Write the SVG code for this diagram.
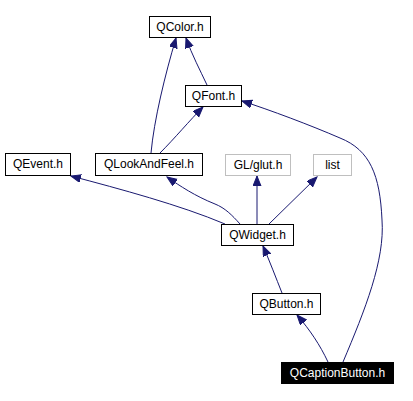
<svg xmlns="http://www.w3.org/2000/svg" width="413" height="401" viewBox="0 0 413 401">
<style>
.box{fill:#fff;stroke:#000;stroke-width:1}
.ext{fill:#fff;stroke:#bfbfbf;stroke-width:1}
.cur{fill:#000;stroke:#000;stroke-width:1}
text{font-family:"Liberation Sans",Arial,sans-serif;font-size:12px;text-anchor:middle;fill:#000}
.cur text, text.w{fill:#fff}
.e{fill:none;stroke:#191970;stroke-width:1;marker-end:url(#ah)}
</style>
<defs>
<marker id="ah" markerUnits="userSpaceOnUse" markerWidth="11" markerHeight="9" refX="10" refY="4" orient="auto" viewBox="0 0 11 9">
<path d="M0,0 L10,4 L0,8 z" fill="#191970" stroke="#191970"/>
</marker>
</defs>
<rect width="413" height="401" fill="#fff"/>
<g id="edges">
<path class="e" d="M151,153 C154,120 165,75 176,38"/>
<path class="e" d="M207,85 C200,70 192,55 186,38"/>
<path class="e" d="M160,153 C175,138 190,120 203,107"/>
<path class="e" d="M343,362 C365,310 385,260 382,220 C380,175 370,150 340,138 C310,125 270,110 242,101"/>
<path class="e" d="M225,224 C180,205 120,189 71,176"/>
<path class="e" d="M240,224 C232,215 225,208 215,204 C195,196 180,186 167,177"/>
<path class="e" d="M257,224 L257,176"/>
<path class="e" d="M269,224 L317,177"/>
<path class="e" d="M282,293 C276,278 270,262 263,246"/>
<path class="e" d="M328,362 C320,345 310,330 297,315"/>
</g>
<g id="QColor"><rect class="box" x="149.5" y="16.5" width="61" height="21"/><text x="180" y="31">QColor.h</text></g>
<g id="QFont"><rect class="box" x="185.5" y="85.5" width="56" height="21"/><text x="213.5" y="100">QFont.h</text></g>
<g id="QEvent"><rect class="box" x="5.5" y="153.5" width="65" height="22"/><text x="38" y="168">QEvent.h</text></g>
<g id="QLookAndFeel"><rect class="box" x="95.5" y="153.5" width="107" height="22"/><text x="149" y="168">QLookAndFeel.h</text></g>
<g id="GLglut"><rect class="ext" x="225.5" y="154.5" width="65" height="21"/><text x="258" y="169">GL/glut.h</text></g>
<g id="list"><rect class="ext" x="313.5" y="154.5" width="38" height="21"/><text x="332.5" y="169">list</text></g>
<g id="QWidget"><rect class="box" x="221.5" y="224.5" width="72" height="21"/><text x="257.5" y="239">QWidget.h</text></g>
<g id="QButton"><rect class="box" x="252.5" y="293.5" width="68" height="21"/><text x="286.5" y="308">QButton.h</text></g>
<g id="QCaptionButton"><rect class="cur" x="281.5" y="362.5" width="112" height="21"/><text class="w" x="337.5" y="377">QCaptionButton.h</text></g>
</svg>
